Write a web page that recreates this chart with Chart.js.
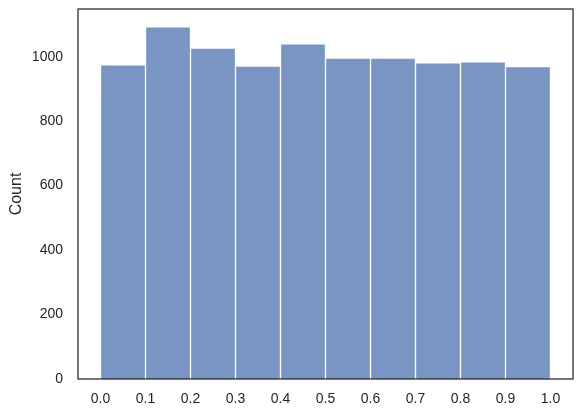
<!DOCTYPE html>
<html>
<head>
<meta charset="utf-8">
<script src="https://cdn.jsdelivr.net/npm/chart.js@4"></script>
<style>
  html, body { margin: 0; padding: 0; background: #ffffff; }
  #wrap { width: 583px; height: 416px; }
</style>
</head>
<body>
<div id="wrap"><canvas id="histChart" width="583" height="416"></canvas></div>
<script>
const binCenters = [0.05, 0.15, 0.25, 0.35, 0.45, 0.55, 0.65, 0.75, 0.85, 0.95];
const counts = [975, 1093, 1027, 971, 1040, 996, 996, 981, 984, 969];
const xTicks = [0.0, 0.1, 0.2, 0.3, 0.4, 0.5, 0.6, 0.7, 0.8, 0.9, 1.0];
const yTicks = [0, 200, 400, 600, 800, 1000];

const textColor = '#262626';
const fontFamily = 'Arial, "Liberation Sans", Helvetica, sans-serif';

// frame on all four sides, like the matplotlib axes spines
const framePlugin = {
  id: 'frame',
  afterDraw(chart) {
    const { ctx, chartArea: a } = chart;
    ctx.save();
    ctx.strokeStyle = textColor;
    ctx.lineWidth = 1.25;
    ctx.strokeRect(a.left, a.top, a.right - a.left, a.bottom - a.top);
    ctx.restore();
  }
};

const ctx = document.getElementById('histChart');

new Chart(ctx, {
  type: 'bar',
  plugins: [framePlugin],
  data: {
    datasets: [{
      data: binCenters.map((x, i) => ({ x: x, y: counts[i] })),
      backgroundColor: 'rgb(121, 149, 196)',
      borderColor: '#ffffff',
      borderWidth: 1,
      borderSkipped: 'start',
      barPercentage: 1,
      categoryPercentage: 1
    }]
  },
  options: {
    responsive: false,
    animation: false,
    layout: { padding: { left: 0, right: 10, top: 9, bottom: 0 } },
    plugins: {
      legend: { display: false },
      tooltip: { enabled: false }
    },
    scales: {
      x: {
        type: 'linear',
        min: -0.05,
        max: 1.05,
        offset: false,
        grid: { display: false, drawTicks: false },
        border: { display: false },
        afterBuildTicks: (scale) => { scale.ticks = xTicks.map(v => ({ value: v })); },
        afterFit: (scale) => {
          scale.height = 37;
          scale.paddingLeft = 0;
          scale.paddingRight = 0;
        },
        ticks: {
          padding: 12,
          maxRotation: 0,
          autoSkip: false,
          color: textColor,
          font: { family: fontFamily, size: 14 },
          callback: (v) => Number(v).toFixed(1)
        }
      },
      y: {
        min: 0,
        max: 1148,
        grid: { display: false, drawTicks: false },
        border: { display: false },
        afterBuildTicks: (scale) => { scale.ticks = yTicks.map(v => ({ value: v })); },
        afterFit: (scale) => {
          scale.width = 78;
          scale.paddingTop = 0;
          scale.paddingBottom = 0;
        },
        title: {
          display: true,
          text: 'Count',
          color: textColor,
          font: { family: fontFamily, size: 16 },
          padding: { top: 7, bottom: 0 }
        },
        ticks: {
          padding: 15,
          color: textColor,
          font: { family: fontFamily, size: 14 },
          callback: (v) => String(v)
        }
      }
    }
  }
});
</script>
</body>
</html>
